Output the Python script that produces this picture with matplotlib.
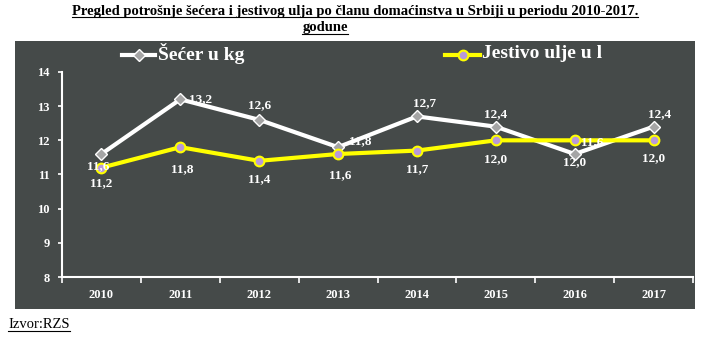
import matplotlib.pyplot as plt
from matplotlib.patches import Rectangle
from matplotlib.lines import Line2D

years = ['2010', '2011', '2012', '2013', '2014', '2015', '2016', '2017']
secer = [11.6, 13.2, 12.6, 11.8, 12.7, 12.4, 11.6, 12.4]
ulje = [11.2, 11.8, 11.4, 11.6, 11.7, 12.0, 12.0, 12.0]
# data labels as printed on the original chart
secer_labels = ['11,6', '13,2', '12,6', '11,8', '12,7', '12,4', '12,0', '12,4']
ulje_labels = ['11,2', '11,8', '11,4', '11,6', '11,7', '12,0', '11,6', '12,0']

bg = '#454a49'
serif = 'Liberation Serif'

fig = plt.figure(figsize=(7.09, 3.37), dpi=100)
W, H = 709, 337

def fx(px):
    return px / W

def fy(py):
    return 1 - py / H

# dark panel
fig.patches.append(Rectangle((fx(15), fy(309)), fx(695) - fx(15), fy(41) - fy(309),
                             transform=fig.transFigure, facecolor=bg, edgecolor='none', zorder=-5))

# title
t1 = fig.text(fx(355), fy(11), 'Pregled potrošnje šećera i jestivog ulja po članu domaćinstva u Srbiji u periodu 2010-2017.',
              ha='center', va='center', fontsize=10.5, fontweight='bold', family=serif)
t2 = fig.text(fx(325), fy(28), 'godune', ha='center', va='center', fontsize=10.5,
              fontweight='bold', family=serif)
t3 = fig.text(fx(8), fy(325), 'Izvor:RZS', ha='left', va='center', fontsize=10.5, family=serif)

# underline title / source text
fig.canvas.draw()
r = fig.canvas.get_renderer()
for t in (t1, t2, t3):
    bb = t.get_window_extent(r)
    y = bb.y0 + 1
    fig.add_artist(Line2D([bb.x0 / W, bb.x1 / W], [y / H, y / H], transform=fig.transFigure,
                          color='black', lw=0.8))

ax = fig.add_axes([fx(62), fy(277), fx(693) - fx(62), fy(72) - fy(277)])
ax.set_facecolor('none')
ax.set_zorder(2)
x = list(range(len(years)))

ax.plot(x, secer, color='white', lw=3, marker='D', markersize=6,
        markerfacecolor='#a5a5a5', markeredgecolor='white', markeredgewidth=1, zorder=3)
ax.plot(x, ulje, color='#ffff00', lw=3, marker='o', markersize=7,
        markerfacecolor='#b89ad8', markeredgecolor='#ffff00', markeredgewidth=1.5, zorder=4)

secer_off = [(-3, -12), (20, 0), (0, 15), (22, 6), (8, 13), (0, 13), (0, -8), (6, 13)]
ulje_off = [(0, -15), (2, -22), (0, -18), (2, -21), (0, -19), (0, -19), (18, -2), (0, -18)]
for i in x:
    ax.annotate(secer_labels[i], (i, secer[i]), xytext=secer_off[i], textcoords='offset pixels',
                ha='center', va='center', color='white', fontsize=9.5, fontweight='bold',
                family=serif, zorder=5)
    ax.annotate(ulje_labels[i], (i, ulje[i]), xytext=ulje_off[i], textcoords='offset pixels',
                ha='center', va='center', color='white', fontsize=9.5, fontweight='bold',
                family=serif, zorder=5)

ax.set_xlim(-0.5, 7.5)
ax.set_ylim(8, 14)
ax.set_yticks(range(8, 15))
ax.set_yticklabels([str(v) for v in range(8, 15)], fontsize=9, fontweight='bold',
                   family=serif, color='white')
ax.set_xticks(x)
ax.set_xticklabels(years, fontsize=9, fontweight='bold', family=serif, color='white')
ax.tick_params(axis='x', length=0, pad=9)
ax.set_xticks([i + 0.5 for i in range(-1, 8)], minor=True)
ax.tick_params(axis='x', which='minor', length=4, color='white', width=1.2, direction='out')
ax.tick_params(axis='y', length=3, color='white', width=1.2, direction='out', pad=6)
for s in ['top', 'right']:
    ax.spines[s].set_visible(False)
for s in ['left', 'bottom']:
    ax.spines[s].set_color('white')
    ax.spines[s].set_linewidth(1.5)

# legend
fig.add_artist(Line2D([fx(122), fx(155)], [fy(55), fy(55)], transform=fig.transFigure,
                      color='white', lw=3))
fig.add_artist(Line2D([fx(138.5)], [fy(55)], transform=fig.transFigure, marker='D',
                      markersize=6, markerfacecolor='#a5a5a5', markeredgecolor='white'))
fig.text(fx(158), fy(53), 'Šećer u kg', ha='left', va='center', color='white',
         fontsize=14, fontweight='bold', family=serif)
fig.add_artist(Line2D([fx(445), fx(480)], [fy(55), fy(55)], transform=fig.transFigure,
                      color='#ffff00', lw=3))
fig.add_artist(Line2D([fx(462.5)], [fy(55)], transform=fig.transFigure, marker='o',
                      markersize=7, markerfacecolor='#b89ad8', markeredgecolor='#ffff00',
                      markeredgewidth=1.5))
fig.text(fx(482), fy(53), 'Jestivo ulje u l', ha='left', va='center', color='white',
         fontsize=14, fontweight='bold', family=serif)

fig.savefig('out.png', dpi=100)
